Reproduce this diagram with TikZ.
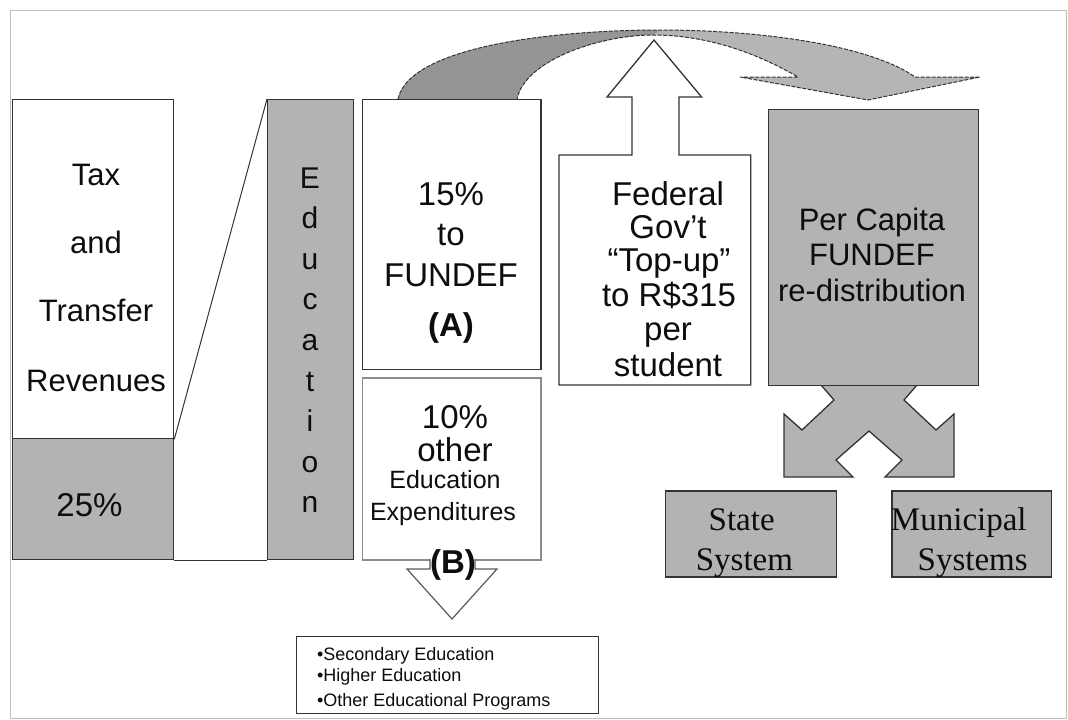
\documentclass[tikz,border=0pt]{standalone}
\usepackage{fontspec}
\setmainfont{Liberation Sans}
\newfontfamily\tnr{Liberation Serif}
\definecolor{boxgray}{HTML}{B3B3B3}
\definecolor{darkarc}{HTML}{959595}
\definecolor{lightarc}{HTML}{B5B5B5}
\definecolor{edge}{HTML}{333333}
\begin{document}
\begin{tikzpicture}[x=1pt,y=-1pt,
  box/.style={draw=edge,line width=1.3pt,inner sep=0pt,anchor=north west},
  graybox/.style={box,fill=boxgray},
  whitebox/.style={box,fill=white},
  lbl/.style={inner sep=0pt,anchor=base,text=black!95},
  f31/.style={font=\fontsize{31}{36}\selectfont},
  f33/.style={font=\fontsize{33}{38}\selectfont},
  f25/.style={font=\fontsize{25}{30}\selectfont},
  f18/.style={font=\fontsize{18}{22}\selectfont},
  tms/.style={font=\tnr\fontsize{33}{38}\selectfont},
  arcline/.style={draw=edge,line width=1pt,dash pattern=on 4pt off 1.5pt}
]
\useasboundingbox (0,0) rectangle (1068,720);
\draw[black!25,line width=1pt] (10,10) rectangle (1066,718);

% curved arrow
\fill[lightarc] (398,99) .. controls (410,45) and (560,30) .. (660,30)
  .. controls (760,30) and (870,45) .. (915,77) -- (980,77) -- (868,100) -- (740,77) -- (798,77)
  .. controls (760,55) and (710,35) .. (653,35) .. controls (600,35) and (525,60) .. (517,99) -- cycle;
\fill[darkarc] (398,99) .. controls (410,45) and (560,30) .. (660,30)
  -- (653,35) .. controls (600,35) and (525,60) .. (517,99) -- cycle;
\draw[arcline] (398,99) .. controls (410,45) and (560,30) .. (660,30)
  .. controls (760,30) and (870,45) .. (915,77) -- (980,77) -- (868,100) -- (740,77) -- (798,77)
  .. controls (760,55) and (710,35) .. (653,35) .. controls (600,35) and (525,60) .. (517,99);

% left column
\node[whitebox,minimum width=161pt,minimum height=339pt] (tax) at (12,99) {};
\node[graybox,minimum width=161pt,minimum height=121pt] (pct) at (12,438) {};
\node[graybox,minimum width=86pt,minimum height=460pt] (edu) at (267,99) {};
\draw[edge,line width=1pt] (tax.south east) -- (edu.north west);
\draw[edge,line width=1.3pt] (pct.south east) -- (edu.south west);

\node[lbl,f31] (t1) at (96,185) {Tax};
\node[lbl,f31] (t2) at (96,253) {and};
\node[lbl,f31] (t3) at (96,321.7) {Transfer};
\node[lbl,f31] (t4) at (96,391.7) {Revenues};
\node[lbl,f33] (t5) at (89.5,516.7) {25\%};

\foreach \l [count=\i from 0] in {E,d,u,c,a,t,i,o,n}
  \node[lbl,font=\fontsize{30}{36}\selectfont] (e\i) at (310,188+40.6*\i) {\l};

% 15% and 10% boxes
\node[whitebox,minimum width=178.6pt,minimum height=270pt] (fift) at (361.6,99) {};
\node[whitebox,draw=black!45,line width=1.6pt,minimum width=178.6pt,minimum height=182pt] (ten) at (361.6,377) {};
\node[lbl,f33] (a1) at (451,205) {15\%};
\node[lbl,f33] (a2) at (451,245) {to};
\node[lbl,f33] (a3) at (451,286.7) {FUNDEF};
\node[lbl,font=\bfseries\fontsize{33}{38}\selectfont] (a4) at (451,336.7) {(A)};
\node[lbl,f33] (b1) at (455,428) {10\%};
\node[lbl,f33] (b2) at (455,461.7) {other};
\node[lbl,f25] (b3) at (445,488.3) {Education};
\node[lbl,f25] (b4) at (443,520) {Expenditures};

% down arrow (B)
\draw[black!65,line width=1.2pt,fill=white] (430,559) -- (430,569) -- (407,569) -- (452,619) -- (497,569) -- (475,569) -- (475,559);
\node[lbl,font=\bfseries\fontsize{33}{38}\selectfont] (b5) at (453,573.3) {(B)};

\node[whitebox,line width=1.2pt,minimum width=302pt,minimum height=77pt] (bul) at (296,636) {};
\node[lbl,f18,anchor=base west] (c1) at (316.8,660) {•Secondary Education};
\node[lbl,f18,anchor=base west] (c2) at (316.8,681.7) {•Higher Education};
\node[lbl,f18,anchor=base west] (c3) at (316.8,706.7) {•Other Educational Programs};

% federal up arrow
\draw[edge,line width=1.3pt,fill=white] (559,385) -- (559,155) -- (632,155) -- (632,97) -- (607,97) -- (654,40) -- (701.6,97) -- (679,97) -- (679,155) -- (750.7,155) -- (750.7,385) -- cycle;
\node[lbl,f33] (d1) at (668,205) {Federal};
\node[lbl,f33] (d2) at (668,238.3) {Gov’t};
\node[lbl,f33] (d3) at (669,271.7) {“Top-up”};
\node[lbl,f33] (d4) at (669,306.7) {to R\$315};
\node[lbl,f33] (d5) at (668,340) {per};
\node[lbl,f33] (d6) at (668,376.7) {student};

% X double arrow
\draw[edge,line width=1.3pt,fill=boxgray] (821,385) -- (834,400) -- (802,430) -- (784,414) -- (784,477) -- (853,477) -- (836,460) -- (869,431) -- (902,460) -- (885,477) -- (954,477) -- (954,414) -- (936,430) -- (904,400) -- (917,385);

% per capita
\node[graybox,minimum width=209.5pt,minimum height=276pt] (pc) at (768,109) {};
\node[lbl,f31] (p1) at (872,230) {Per Capita};
\node[lbl,f31] (p2) at (872,265) {FUNDEF};
\node[lbl,f31] (p3) at (872,301.7) {re-distribution};

% state / municipal
\node[graybox,line width=1.5pt,minimum width=171pt,minimum height=86pt] (st) at (664.5,490) {};
\node[graybox,line width=1.5pt,minimum width=159.6pt,minimum height=86pt] (mu) at (891,490) {};
\node[lbl,tms] (s1) at (741.7,530) {State};
\node[lbl,tms] (s2) at (744.4,570) {System};
\node[lbl,tms] (m1) at (958.8,530) {Municipal};
\node[lbl,tms] (m2) at (972.7,570) {Systems};
\end{tikzpicture}
\end{document}
